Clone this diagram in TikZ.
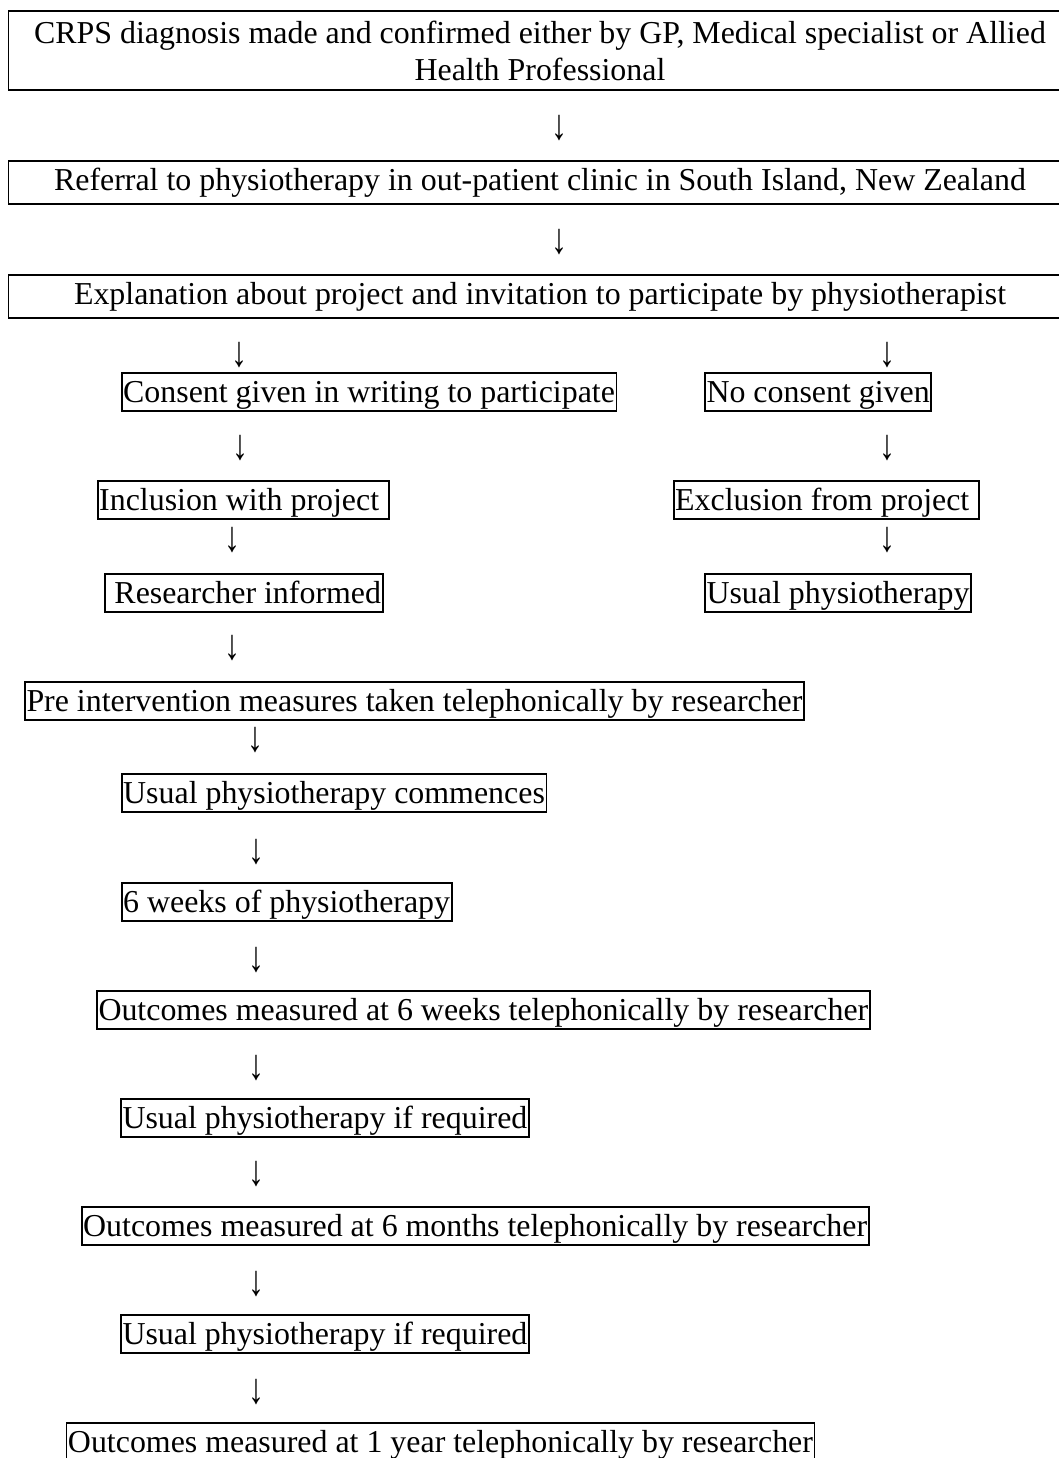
\documentclass[tikz,border=0pt]{standalone}
\usepackage{graphicx}
\usepackage{fontspec}
\setmainfont{Liberation Serif}

\begin{document}
\begin{tikzpicture}[
  x=0.5pt, y=-0.5pt,
  every node/.style={font=\fontsize{15.95}{18.5}\selectfont},
  flowbox/.style={draw, line width=0.9pt, anchor=north west, inner xsep=0.8pt, inner ysep=1pt, text height=14pt, text depth=3pt},
  widebox/.style={draw, line width=0.9pt, minimum width=531.5pt, minimum height=#1, align=center, inner sep=0pt},
  downarrow/.style={inner sep=0pt}
]
  \useasboundingbox (0,0) rectangle (1059,1458);
  \clip (0,0) rectangle (1059,1458);

  % top row, full width
  \node[widebox=39.5pt] (diag) at (540,50.5) {CRPS diagnosis made and confirmed either by GP, Medical specialist or Allied\\Health Professional};
  \node[widebox=21.5pt] (refer) at (540,182.5) {Referral to physiotherapy in out-patient clinic in South Island, New Zealand};
  \node[widebox=21.5pt] (expl) at (540,296.5) {Explanation about project and invitation to participate by physiotherapist};

  % two branches
  \node[flowbox] (consent) at (120.7,371.7) {Consent given in writing to participate};
  \node[flowbox] (noconsent) at (704,371.7) {No consent given};
  \node[flowbox] (incl) at (96.7,480) {Inclusion with project\ \null};
  \node[flowbox] (excl) at (672.7,480) {Exclusion from project\ \null};
  \node[flowbox] (informed) at (104,572.7) {\ Researcher informed};
  \node[flowbox] (usual) at (704,572.7) {Usual physiotherapy};

  % study path
  \node[flowbox] (pre) at (24,680.7) {Pre intervention measures taken telephonically by researcher};
  \node[flowbox] (commence) at (120.7,772.7) {Usual physiotherapy commences};
  \node[flowbox] (sixwk) at (120.7,881.7) {6 weeks of physiotherapy};
  \node[flowbox] (outwk) at (96,990) {Outcomes measured at 6 weeks telephonically by researcher};
  \node[flowbox] (ifreqa) at (120,1098) {Usual physiotherapy if required};
  \node[flowbox] (outmo) at (80.7,1205.7) {Outcomes measured at 6 months telephonically by researcher};
  \node[flowbox] (ifreqb) at (120,1314) {Usual physiotherapy if required};
  \node[flowbox] (outyr) at (65.5,1422) {Outcomes measured at 1 year telephonically by researcher};

  % arrows (typed as glyphs)
  \node[downarrow] (a1) at (559,128) {\scalebox{1}[1.35]{↓}};
  \node[downarrow] (a2) at (559,242) {\scalebox{1}[1.35]{↓}};
  \node[downarrow] (a3) at (239,355) {\scalebox{1}[1.35]{↓}};
  \node[downarrow] (a4) at (887,355) {\scalebox{1}[1.35]{↓}};
  \node[downarrow] (a5) at (240,448) {\scalebox{1}[1.35]{↓}};
  \node[downarrow] (a6) at (887,448) {\scalebox{1}[1.35]{↓}};
  \node[downarrow] (a7) at (232,540) {\scalebox{1}[1.35]{↓}};
  \node[downarrow] (a8) at (887,540) {\scalebox{1}[1.35]{↓}};
  \node[downarrow] (a9) at (232,648) {\scalebox{1}[1.35]{↓}};
  \node[downarrow] (a10) at (255,740) {\scalebox{1}[1.35]{↓}};
  \node[downarrow] (a11) at (256,852) {\scalebox{1}[1.35]{↓}};
  \node[downarrow] (a12) at (256,960) {\scalebox{1}[1.35]{↓}};
  \node[downarrow] (a13) at (256,1068) {\scalebox{1}[1.35]{↓}};
  \node[downarrow] (a14) at (256,1174) {\scalebox{1}[1.35]{↓}};
  \node[downarrow] (a15) at (256,1284) {\scalebox{1}[1.35]{↓}};
  \node[downarrow] (a16) at (256,1392) {\scalebox{1}[1.35]{↓}};
\end{tikzpicture}
\end{document}
